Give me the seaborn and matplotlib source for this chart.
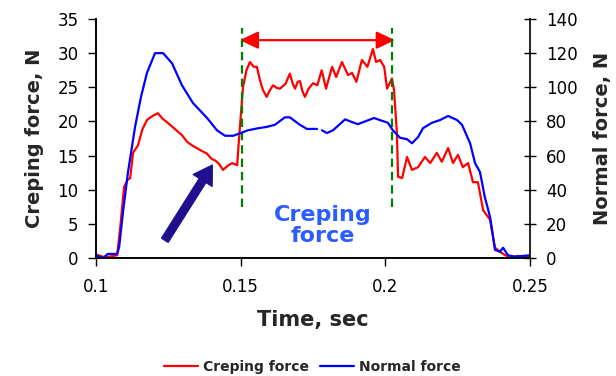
import numpy as np
import pandas as pd
import matplotlib
matplotlib.use("Agg")
import matplotlib.pyplot as plt
import seaborn as sns

# ---- data ----
t_creping = [0.1000, 0.1030, 0.1060, 0.1073, 0.1085, 0.1097, 0.1110, 0.1118, 0.1128, 0.1145,
             0.1160, 0.1176, 0.1195, 0.1214, 0.1230, 0.1245, 0.1270, 0.1297, 0.1315, 0.1332,
             0.1360, 0.1383, 0.1400, 0.1411, 0.1425, 0.1439, 0.1455, 0.1470, 0.1488, 0.1494,
             0.1508, 0.1520, 0.1532, 0.1545, 0.1556, 0.1567, 0.1577, 0.1590, 0.1600, 0.1612,
             0.1625, 0.1636, 0.1655, 0.1670, 0.1680, 0.1688, 0.1697, 0.1705, 0.1713, 0.1722,
             0.1735, 0.1750, 0.1765, 0.1780, 0.1795, 0.1816, 0.1830, 0.1850, 0.1871, 0.1885,
             0.1900, 0.1919, 0.1938, 0.1957, 0.1968, 0.1982, 0.1996, 0.2006, 0.2023, 0.2030,
             0.2040, 0.2044, 0.2058, 0.2075, 0.2092, 0.2113, 0.2137, 0.2155, 0.2178, 0.2195,
             0.2217, 0.2234, 0.2251, 0.2268, 0.2286, 0.2303, 0.2320, 0.2338, 0.2362, 0.2379,
             0.2403, 0.2431, 0.2455, 0.2500]
creping = [0.5, 0.1, 0.3, 0.4, 5.0, 10.4, 11.5, 11.7, 15.4, 16.5,
           18.8, 20.2, 20.8, 21.2, 20.4, 19.9, 19.0, 18.0, 17.0, 16.5,
           15.8, 15.3, 14.5, 14.3, 13.8, 12.9, 13.5, 13.9, 13.6, 17.3,
           25.0, 27.5, 28.7, 28.0, 28.0, 26.0, 24.6, 23.6, 24.5, 25.3,
           24.9, 24.8, 25.5, 27.0, 25.5, 24.8, 25.8, 25.9, 24.5, 23.6,
           24.8, 25.6, 25.3, 27.5, 24.8, 28.0, 26.5, 28.7, 26.8, 27.1,
           25.8, 29.0, 28.0, 30.6, 28.7, 29.0, 28.0, 24.8, 26.3, 24.6,
           18.3, 11.9, 11.7, 14.8, 12.9, 13.3, 14.8, 13.9, 15.4, 14.1,
           16.1, 13.9, 15.1, 13.3, 13.9, 11.1, 11.1, 7.0, 5.6, 1.5,
           0.7, 0.0, 0.3, 0.2]

t_normal_a = [0.1000, 0.1024, 0.1041, 0.1073, 0.1080, 0.1093, 0.1110, 0.1135, 0.1155, 0.1176,
              0.1204, 0.1232, 0.1263, 0.1297, 0.1335, 0.1384, 0.1418, 0.1446, 0.1474, 0.1500,
              0.1525, 0.1560, 0.1590, 0.1618, 0.1653, 0.1670, 0.1705, 0.1729, 0.1764]
normal_a = [1.6, 0.0, 2.4, 2.4, 6.4, 26.4, 49.6, 76.8, 94.0, 108.4,
            120.0, 120.0, 114.0, 101.2, 90.8, 82.0, 74.8, 71.6, 71.6, 73.2,
            74.8, 76.0, 76.8, 78.0, 82.4, 82.4, 78.0, 75.6, 75.6]
t_normal_b = [0.1781, 0.1798, 0.1819, 0.1861, 0.1885, 0.1905, 0.1936, 0.1961, 0.1988, 0.2009,
              0.2026, 0.2051, 0.2075, 0.2092, 0.2113, 0.2130, 0.2161, 0.2189, 0.2217, 0.2248,
              0.2265, 0.2293, 0.2310, 0.2327, 0.2344, 0.2362, 0.2379, 0.2396, 0.2407, 0.2424,
              0.2448, 0.2500]
normal_b = [74.8, 73.2, 74.8, 81.2, 79.6, 78.4, 80.4, 82.0, 80.4, 79.2,
            74.8, 70.4, 69.6, 67.2, 70.8, 76.0, 79.2, 80.8, 83.2, 80.8,
            78.0, 67.2, 55.6, 50.4, 35.6, 24.0, 4.8, 3.6, 6.0, 1.6,
            0.8, 1.6]

x_ticks = [0.1, 0.15, 0.2, 0.25]
x_tick_labels = ["0.1", "0.15", "0.2", "0.25"]
left_ticks = [0, 5, 10, 15, 20, 25, 30, 35]
right_ticks = [0, 20, 40, 60, 80, 100, 120, 140]

zone_start, zone_end = 0.1505, 0.2023   # creping zone (green dashed lines)

# ---- style ----
sns.set_style("ticks")
plt.rcParams['font.family'] = ['DejaVu Sans']

fig = plt.figure(figsize=(6.16, 3.76), dpi=100)
ax = fig.add_axes([96/616, 1-258/376, (530-96)/616, (258-19)/376])
ax2 = ax.twinx()

df_c = pd.DataFrame({"t": t_creping, "f": creping})
df_na = pd.DataFrame({"t": t_normal_a, "f": normal_a})
df_nb = pd.DataFrame({"t": t_normal_b, "f": normal_b})

sns.lineplot(data=df_c, x="t", y="f", ax=ax, color="#ff0000", lw=1.6,
             estimator=None, label="Creping force", legend=False)
sns.lineplot(data=df_na, x="t", y="f", ax=ax2, color="#0000ff", lw=1.6,
             estimator=None, label="Normal force", legend=False)
sns.lineplot(data=df_nb, x="t", y="f", ax=ax2, color="#0000ff", lw=1.6,
             estimator=None, legend=False)

ax.set_xlim(0.1, 0.25)
ax.set_ylim(0, 35)
ax2.set_ylim(0, 140)
ax.set_xticks(x_ticks)
ax.set_xticklabels(x_tick_labels)
ax.set_yticks(left_ticks)
ax2.set_yticks(right_ticks)

for a in (ax, ax2):
    a.spines["top"].set_visible(False)
    for s in a.spines.values():
        s.set_color("black")
        s.set_linewidth(1.2)
ax.spines["right"].set_visible(False)

ax.tick_params(axis="y", direction="out", length=5.5, width=1, labelsize=12,
               colors="black", pad=7)
ax.tick_params(axis="x", direction="out", length=5.5, width=1, labelsize=12,
               colors="black", pad=9)
ax2.tick_params(axis="y", direction="inout", length=9, width=1, labelsize=12,
                colors="black", pad=7)

ax.set_xlabel("Time, sec", fontsize=15, fontweight="bold", labelpad=10)
ax.set_ylabel("Creping force, N", fontsize=14, fontweight="bold", labelpad=10)
ax2.set_ylabel("Normal force, N", fontsize=14, fontweight="bold", labelpad=11)

# green dashed boundaries of the creping zone
for xv in (zone_start, zone_end):
    ax.plot([xv, xv], [7.5, 33.7], color="#008000", lw=1.6, ls=(0, (3.8, 2.2)), zorder=5)

# red double arrow
ax.annotate("", xy=(0.2033, 31.9), xytext=(0.1497, 31.9),
            arrowprops=dict(arrowstyle="<|-|>,head_length=0.8,head_width=0.38",
                            color="#ff0000", lw=1.6, mutation_scale=14,
                            shrinkA=0, shrinkB=0))

# dark blue arrow
ax.annotate("", xy=(0.1402, 13.6), xytext=(0.1238, 2.6),
            arrowprops=dict(arrowstyle="simple,head_length=0.65,head_width=0.8,tail_width=0.28",
                            color="#1f0f8f", mutation_scale=20, shrinkA=0, shrinkB=0))

ax.text(0.1785, 4.8, "Creping\nforce", color="#2b5cff", fontsize=16, fontweight="bold",
        ha="center", va="center", linespacing=1.05)

handles = ax.get_lines()[:1] + ax2.get_lines()[:1]
fig.legend(handles=handles, labels=["Creping force", "Normal force"],
           loc="center", bbox_to_anchor=(312/616, 1-367/376), ncol=2, frameon=False,
           prop={"size": 10, "weight": "bold"}, handlelength=2.5, handletextpad=0.3,
           columnspacing=0.8)

fig.savefig("out.png", dpi=100)
